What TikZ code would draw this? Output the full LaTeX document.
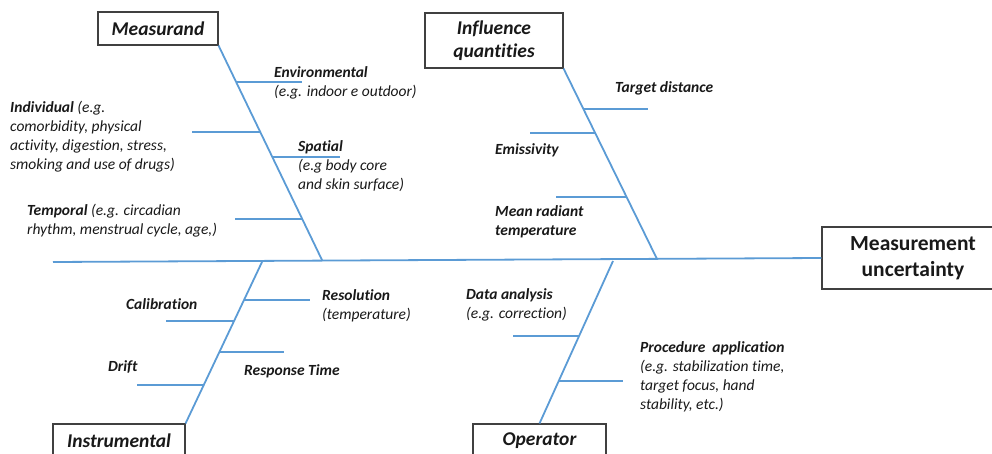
\documentclass[tikz,border=0pt]{standalone}
\usepackage{xcolor}
\usepackage{fontspec}
\setmainfont[Ligatures={NoCommon}]{Carlito}
\usepackage{tikz}
\usetikzlibrary{positioning}

\definecolor{fishblue}{RGB}{91,155,213}
\definecolor{boxgray}{RGB}{64,64,64}
\definecolor{inkgray}{RGB}{25,25,25}

\begin{document}
\begin{tikzpicture}[
    x=1pt, y=-1pt,
    bone/.style={draw=fishblue, line width=1.8pt},
    causebox/.style={rectangle, draw=boxgray, line width=1.1pt, fill=white, text=inkgray, align=center, inner sep=0pt, font=\fontsize{19.5}{22.5}\selectfont\bfseries\itshape},
    effectbox/.style={rectangle, draw=boxgray, line width=1.1pt, fill=white, text=inkgray, align=center, inner sep=0pt, font=\fontsize{21.5}{26}\selectfont\bfseries},
    lbl/.style={anchor=base west, align=left, inner sep=0pt, text=inkgray, font=\fontsize{15.5}{19}\selectfont\itshape}
]
\useasboundingbox (0,0) rectangle (992,454);

% Effect and spine
\node[effectbox, minimum width=182pt, minimum height=62pt] (effect) at (913,258) {Measurement\\uncertainty};
\coordinate (tail) at (53,262);
\draw[bone] (tail) -- (effect.west);

% Cause boxes
\node[causebox, minimum width=120pt, minimum height=33pt] (measurand) at (158,28.5) {Measurand};
\node[causebox, minimum width=138pt, minimum height=55pt] (influence) at (494,40.5) {Influence\\quantities};
\node[causebox, minimum width=132pt, minimum height=34pt] (instrumental) at (119,441) {Instrumental};
\node[causebox, minimum width=133pt, minimum height=34pt] (operator) at (539.5,441) {Operator};

% Branches to the spine
\coordinate (measj) at (322,260);
\coordinate (inflj) at (657,259);
\coordinate (instj) at (262,262);
\coordinate (operj) at (613,261);
\draw[bone] (measurand.south east) -- (measj);
\draw[bone] (influence.south east) -- (inflj);
\draw[bone] (instrumental.north east) -- (instj);
\draw[bone] (operator.north) -- (operj);

% Measurand ribs
\coordinate (envA) at (236,82);  \coordinate (envB) at (302,82);
\coordinate (indA) at (192,132); \coordinate (indB) at (260,132);
\coordinate (spaA) at (272,157); \coordinate (spaB) at (340,157);
\coordinate (temA) at (235,219); \coordinate (temB) at (302,219);
\draw[bone] (envA) -- (envB);
\draw[bone] (indA) -- (indB);
\draw[bone] (spaA) -- (spaB);
\draw[bone] (temA) -- (temB);
% (base of a multi-line label = its last line)
\node[lbl] (env) at (274,97) {\textbf{Environmental}\\(e.g. indoor e outdoor)};
\node[lbl] (ind) at (10,170) {\textbf{Individual} (e.g.\\comorbidity, physical\\activity, digestion, stress,\\smoking and use of drugs)};
\node[lbl] (spa) at (298,190) {\textbf{Spatial}\\(e.g body core\\and skin surface)};
\node[lbl] (tem) at (27,235) {\textbf{Temporal} (e.g. circadian\\rhythm, menstrual cycle, age,)};

% Influence quantities ribs
\coordinate (tarA) at (583,109); \coordinate (tarB) at (648,109);
\coordinate (emiA) at (530,133); \coordinate (emiB) at (595,133);
\coordinate (mrtA) at (556,197); \coordinate (mrtB) at (626,197);
\draw[bone] (tarA) -- (tarB);
\draw[bone] (emiA) -- (emiB);
\draw[bone] (mrtA) -- (mrtB);
\node[lbl] (tar) at (615,93) {\textbf{Target distance}};
\node[lbl] (emi) at (495,155) {\textbf{Emissivity}};
\node[lbl] (mrt) at (495,236) {\textbf{Mean radiant}\\\textbf{temperature}};

% Instrumental ribs
\coordinate (resA) at (244,300); \coordinate (resB) at (310,300);
\coordinate (calA) at (166,321); \coordinate (calB) at (234,321);
\coordinate (rspA) at (219,352); \coordinate (rspB) at (284,352);
\coordinate (drfA) at (137,385); \coordinate (drfB) at (203,385);
\draw[bone] (resA) -- (resB);
\draw[bone] (calA) -- (calB);
\draw[bone] (rspA) -- (rspB);
\draw[bone] (drfA) -- (drfB);
\node[lbl] (res) at (322,319) {\textbf{Resolution}\\(temperature)};
\node[lbl] (cal) at (126,309) {\textbf{Calibration}};
\node[lbl] (rsp) at (244,375) {\textbf{Response Time}};
\node[lbl] (drf) at (108,371) {\textbf{Drift}};

% Operator ribs
\coordinate (datA) at (513,336); \coordinate (datB) at (579,336);
\coordinate (proA) at (559,381); \coordinate (proB) at (623,381);
\draw[bone] (datA) -- (datB);
\draw[bone] (proA) -- (proB);
\node[lbl] (dat) at (466,318) {\textbf{Data analysis}\\(e.g. correction)};
\node[lbl] (pro) at (640,409) {\textbf{Procedure\ \ application}\\(e.g. stabilization time,\\target focus, hand\\stability, etc.)};

\end{tikzpicture}
\end{document}
